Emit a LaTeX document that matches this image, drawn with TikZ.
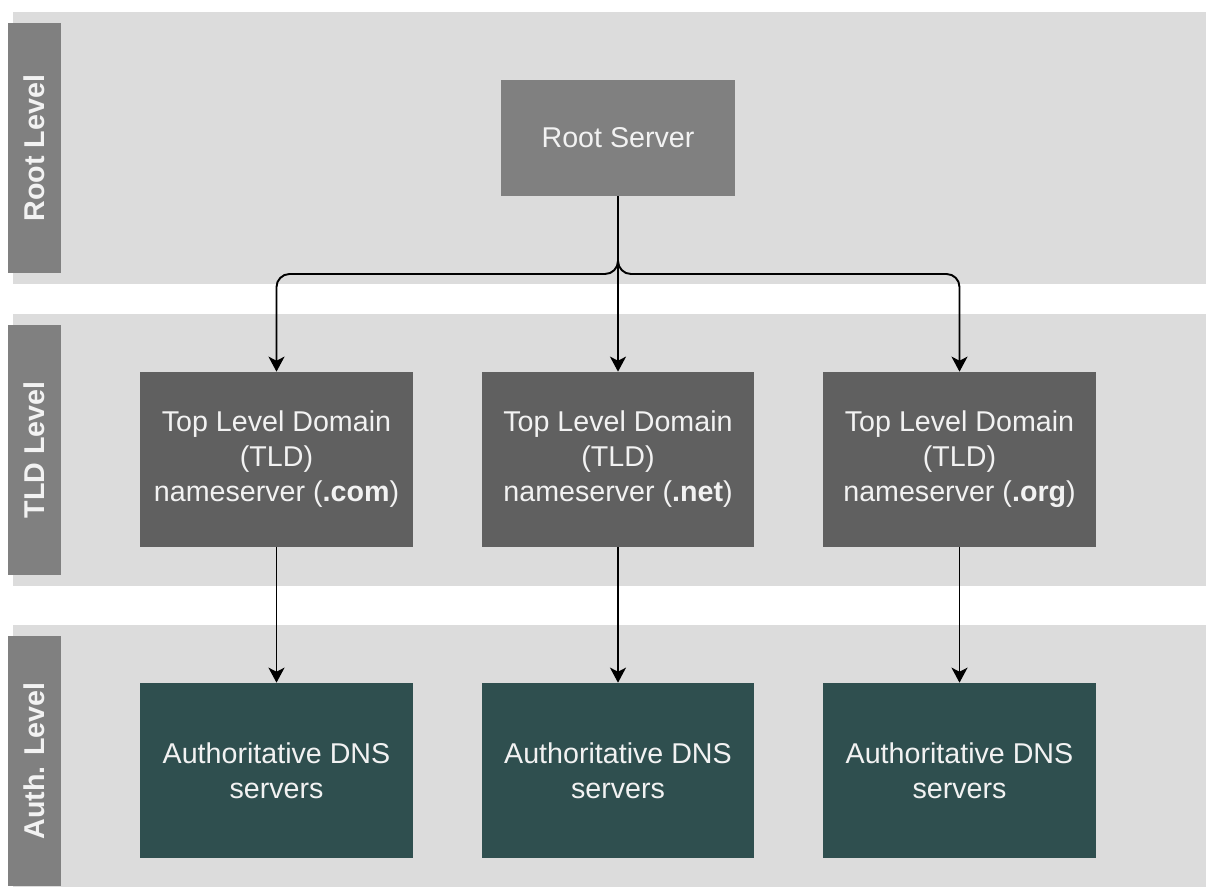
\documentclass[tikz,border=0pt]{standalone}
\usepackage{fontspec}
\setmainfont{Liberation Sans}
\usetikzlibrary{arrows.meta}

\definecolor{bandgray}{HTML}{DCDCDC}
\definecolor{stripgray}{HTML}{808080}
\definecolor{rootgray}{HTML}{808080}
\definecolor{tldgray}{HTML}{606060}
\definecolor{authgreen}{HTML}{2F4F4F}
\definecolor{labelwhite}{HTML}{F2F2F2}

\tikzset{
  levelband/.style={fill=bandgray},
  levelname/.style={fill=stripgray, rotate=90, minimum width=5cm, minimum height=1.06cm,
    inner sep=0pt, text=labelwhite, font=\fontsize{16.3}{19.9}\selectfont\bfseries},
  server/.style={minimum width=5.46cm, minimum height=3.5cm, inner sep=2pt, align=center,
    text=labelwhite, font=\fontsize{16.3}{19.9}\selectfont},
  rootbox/.style={server, fill=rootgray, minimum width=4.68cm, minimum height=2.32cm},
  tldbox/.style={server, fill=tldgray},
  authbox/.style={server, fill=authgreen},
  link/.style={line width=1.1pt, -{Stealth[length=0.3cm,width=0.32cm,inset=0.08cm]}}
}

\begin{document}
\begin{tikzpicture}[x=0.02cm, y=-0.02cm]
\useasboundingbox (0,0) rectangle (1206,889);
% bands
\fill[levelband] (13,12) rectangle (1206,284);
\fill[levelband] (13,314) rectangle (1206,586);
\fill[levelband] (13,625) rectangle (1206,887);
\node[levelname] (rootlevel) at (34.5,148) {Root Level};
\node[levelname] (tldlevel) at (34.5,450) {TLD Level};
\node[levelname] (authlevel) at (34.5,761) {Auth. Level};

% servers
\node[rootbox] (root) at (618,138) {Root Server};
\node[tldbox] (tldcom) at (276.5,459.5) {Top Level Domain\\(TLD)\\nameserver (\textbf{.com})};
\node[tldbox] (tldnet) at (618,459.5) {Top Level Domain\\(TLD)\\nameserver (\textbf{.net})};
\node[tldbox] (tldorg) at (959.5,459.5) {Top Level Domain\\(TLD)\\nameserver (\textbf{.org})};
\node[authbox] (authcom) at (276.5,770.5) {Authoritative DNS\\servers};
\node[authbox] (authnet) at (618,770.5) {Authoritative DNS\\servers};
\node[authbox] (authorg) at (959.5,770.5) {Authoritative DNS\\servers};

% links
\coordinate (split) at (618,274);
\draw[link, rounded corners=0.26cm] (root.south) -- (split) -| (tldcom.north);
\draw[link, rounded corners=0.26cm] (root.south) -- (split) -| (tldorg.north);
\draw[link] (root.south) -- (tldnet.north);
\draw[link] (tldcom) -- (authcom);
\draw[link] (tldnet) -- (authnet);
\draw[link] (tldorg) -- (authorg);
\end{tikzpicture}
\end{document}
